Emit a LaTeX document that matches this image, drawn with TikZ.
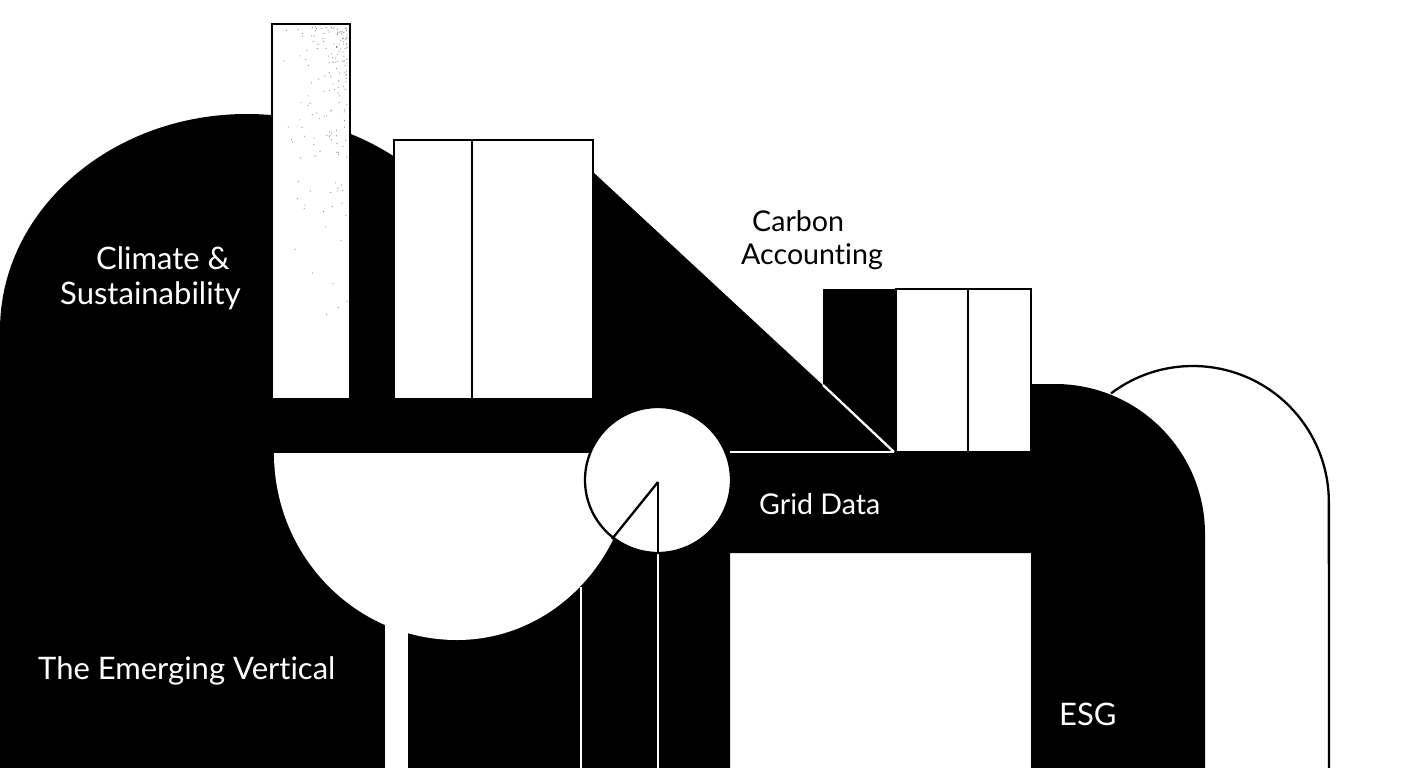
\documentclass[tikz,border=0pt]{standalone}
\usepackage{fontspec}
\setmainfont{Lato}[Ligatures=CommonOff]
\tikzstyle{solid}=[fill=black,draw=none]
\tikzstyle{panel}=[fill=white,draw=black,line width=2.3pt]
\tikzstyle{whiteline}=[draw=white,line width=2.3pt]
\tikzstyle{blackline}=[draw=black,line width=2.3pt]
\tikzstyle{label}=[font=\fontsize{31}{35}\selectfont,inner sep=0,align=left,anchor=west]
\tikzstyle{smalllabel}=[label,font=\fontsize{28.6}{33}\selectfont]

\begin{document}
\begin{tikzpicture}[x=1pt,y=-1pt]

        \useasboundingbox (0,0) rectangle (1408,768);
        \fill[white] (0,0) rectangle (1408,768);

% Outline behind the right block
        \draw[blackline] (1111,393.4) arc[start angle=233,end angle=360,radius=136] -- (1329,768);

% Black masses
        \path[solid] (0,768) -- (0,330)
            arc[start angle=180,end angle=306.5,x radius=247,y radius=216]
            -- (593,172) -- (895,452) -- (1031,452) -- (1031,553) -- (730,553) -- (730,768) -- cycle;
        \path[solid] (823,289) rectangle (896,452);
        \path[solid] (1031,768) -- (1031,384) -- (1055,384)
            arc[start angle=270,end angle=360,radius=150] -- (1205,768) -- cycle;

% White cut-outs
        \fill[white] (385,610) rectangle (408,768);
        \fill[white] (274,453) arc[start angle=180,end angle=90,x radius=183,y radius=187]
            arc[start angle=90,end angle=0,x radius=176,y radius=187] -- cycle;

% Bars
        \draw[panel] (272,24) rectangle (350,399);
        \pgfmathsetseed{11}
        \foreach \n in {1,...,170} {
            \pgfmathsetmacro{\dotx}{347-74*rnd*rnd}
            \pgfmathsetmacro{\doty}{27+310*rnd*rnd}
            \fill[black!45] (\dotx,\doty) circle[radius=0.6];
        }
        \draw[panel] (394,140) rectangle (472,399);
        \draw[panel] (472,140) rectangle (593,399);
        \draw[panel] (896,289) rectangle (968,452);
        \draw[panel] (968,289) rectangle (1031,452);

% Thin lines on black
        \draw[whiteline] (730,452) -- (894,452);
        \draw[whiteline] (823,385) -- (894,452);
        \draw[whiteline] (581,587) -- (581,768);
        \draw[whiteline] (658,553) -- (658,768);

% Disc
        \draw[panel] (658,480) circle[radius=73];
        \draw[blackline] (658,482) -- (658,553);
        \draw[blackline] (658,482) -- (612,539);

% Labels
        \node[label,text=white] (climate) at (60,278) {\hspace*{36pt}Climate \&\\[0pt]Sustainability};
        \node[label,text=white] (vertical) at (38,670.5) {The Emerging Vertical};
        \node[smalllabel] (carbon) at (741,240) {\hspace*{11pt}Carbon\\[0pt]Accounting};
        \node[smalllabel,text=white] (grid) at (759,504) {Grid Data};
        \node[label,text=white] (esg) at (1059,714) {ESG};

    \end{tikzpicture}
\end{document}
